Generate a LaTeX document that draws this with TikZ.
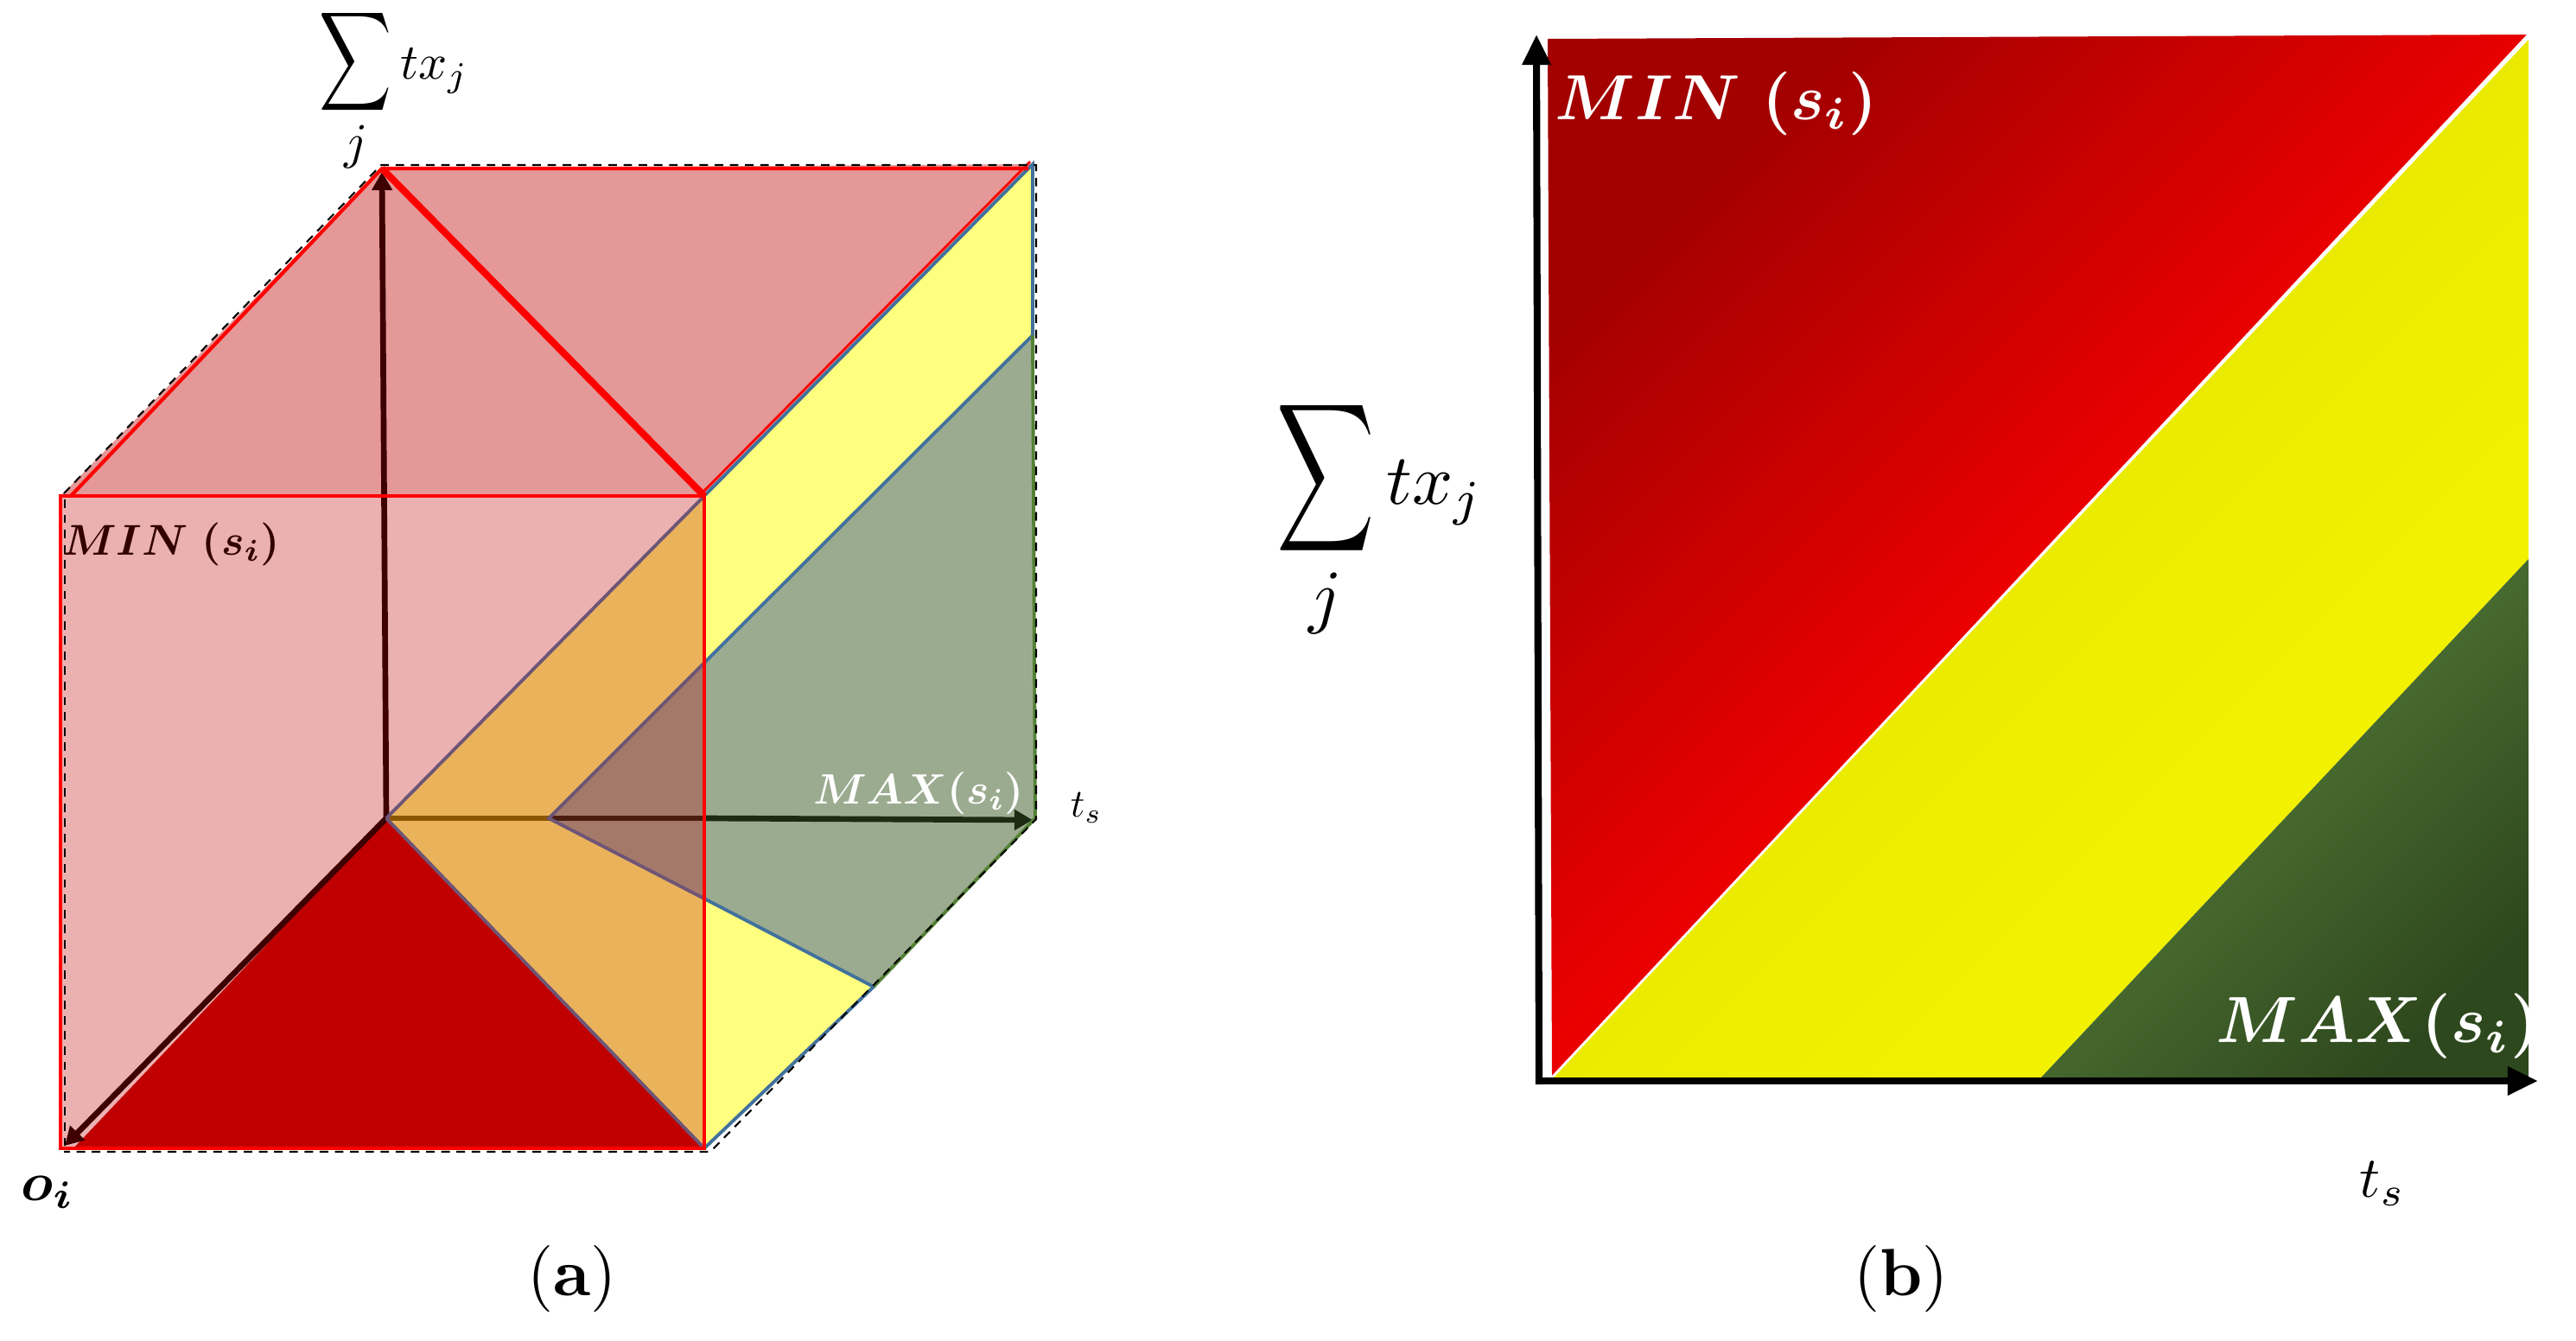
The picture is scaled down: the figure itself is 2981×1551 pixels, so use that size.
\documentclass[tikz,border=0pt]{standalone}
\usepackage{amsmath}
\usepackage{bm}
\usetikzlibrary{arrows.meta}

\definecolor{toppink}{HTML}{E49898}
\definecolor{frontpink}{HTML}{EBB1B1}
\definecolor{cubered}{HTML}{C00000}
\definecolor{paleyellow}{HTML}{FFFF7F}
\definecolor{orangewedge}{HTML}{EAB35B}
\definecolor{greygreen}{HTML}{9BAB90}
\definecolor{brownwedge}{HTML}{A5796A}
\definecolor{edgeblue}{HTML}{41719C}
\definecolor{edgepurple}{HTML}{6E5576}
\definecolor{edgegreen}{HTML}{548235}
\definecolor{minmaroon}{HTML}{330000}
\definecolor{arrowmaroon}{HTML}{3E0000}
\definecolor{arroworange}{HTML}{8A5700}
\definecolor{arrowbrown}{HTML}{4A1D10}
\definecolor{arrowgreen}{HTML}{1C2B12}

\begin{document}
\begin{tikzpicture}[x=0.01cm,y=-0.01cm,
  redline/.style={draw=red,line width=1.2pt},
  blueline/.style={draw=edgeblue,line width=1.1pt},
  purpleline/.style={draw=edgepurple,line width=1.1pt},
  greenline/.style={draw=edgegreen,line width=1.1pt},
  dashline/.style={draw=black,line width=0.6pt,dash pattern=on 2.8pt off 2.2pt},
  cubearrow/.style={line width=1.9pt,-{Triangle[length=6pt,width=6.5pt]}},
  axisarrow/.style={line width=2.3pt,line cap=rect,-{Triangle[length=10pt,width=9pt]}},
  sumlabel/.style={inner sep=0pt}]
\useasboundingbox (0,0) rectangle (2981,1551);
% Cube corners (a)
\coordinate (FTL) at (70,574);
\coordinate (FTR) at (815,574);
\coordinate (FBL) at (70,1329);
\coordinate (FBR) at (815,1329);
\coordinate (BTL) at (442,195);
\coordinate (BTR) at (1195,190);
\coordinate (BBR) at (1198,947);
\coordinate (O) at (447,947);
\coordinate (P) at (635,947);
\coordinate (Q) at (815,947);
\coordinate (G1) at (1195,388);
\coordinate (G2) at (1011,1142);
\coordinate (Gf) at (815,767);
\coordinate (Gb) at (815,1040);
\coordinate (Ytip) at (442,199);
\coordinate (Otip) at (75,1326);
\coordinate (Ttip) at (1195,949);
% Top face
\fill[toppink] (FTL) -- (BTL) -- (BTR) -- (FTR) -- cycle;
% Right face
\fill[paleyellow] (FTR) -- (BTR) -- (G1) -- (Gf) -- cycle;
\fill[greygreen] (Gf) -- (G1) -- (BBR) -- (G2) -- (Gb) -- cycle;
\fill[paleyellow] (Gb) -- (G2) -- (FBR) -- cycle;
% Front face
\fill[frontpink] (FTL) rectangle (FBR);
\fill[orangewedge] (O) -- (FTR) -- (FBR) -- cycle;
\fill[brownwedge] (P) -- (Gf) -- (Gb) -- cycle;
\fill[cubered] (O) -- (85,1329) -- (FBR) -- cycle;
% Axes
\draw[cubearrow,draw=arrowmaroon] (O) -- (Ytip);
\draw[cubearrow,draw=arrowmaroon] (O) -- (Otip);
\draw[line width=1.9pt,draw=arroworange] (O) -- (P);
\draw[line width=1.9pt,draw=arrowbrown] (P) -- (Q);
\draw[cubearrow,draw=arrowgreen] (Q) -- (Ttip);
% Edges seen through the front face
\draw[purpleline] (O) -- (FTR);
\draw[purpleline] (O) -- (FBR);
\draw[purpleline] (Gf) -- (P) -- (Gb);
% Edges of the right face
\draw[red,line width=0.8pt] (812,571) -- (1192,187);
\draw[blueline] (FTR) -- (BTR) -- (G1);
\draw[blueline] (G1) -- (Gf);
\draw[blueline] (Gb) -- (G2) -- (FBR);
\draw[greenline] (G1) -- (BBR) -- (G2);
% Red outline
\draw[redline] (FTL) rectangle (FBR);
\draw[redline] (82,574) -- (BTL) -- (1190,195);
\draw[redline,line width=2.3pt] (BTL) -- (FTR);
% Dashed cube
\draw[dashline] (74,571) -- (441,191) -- (1199,191) -- (1199,948) -- (822,1333) -- (74,1333);
\draw[dashline] (75,578) -- (75,1329);
% Labels (a)
\node[sumlabel,scale=1.65] (sumA) at (456,104)
  {$\displaystyle\mathop{\scalebox{1.0}[1.38]{$\displaystyle\sum$}}\limits_{\mbox{$j$}} tx_j$};
\node[text=minmaroon,scale=1.42] (minA) at (198,630) {$\bm{MIN\ (s_i)}$};
\node[text=white,scale=1.4] (maxA) at (1063,918) {$\bm{MAX(s_i)}$};
\node[scale=1.3] (tsA) at (1257,935) {$t_s$};
\node[scale=1.8] (oiA) at (55,1380) {$\bm{o_i}$};
\node[scale=2.2] (capA) at (662,1480) {(\textbf{a})};
% Square (b)
\coordinate (SqTL) at (1791,45);
\coordinate (SqTR) at (2926,40);
\coordinate (SqBL) at (1796,1247);
\coordinate (SqBR) at (2926,1247);
\coordinate (YTR) at (2926,46);
\coordinate (YR) at (2926,647);
\coordinate (YB) at (2362,1247);
\shade[top color=cubered!85!black,bottom color=red!90!black,middle color=red!92!black,shading angle=45] (SqTL) -- (SqTR) -- (SqBL) -- cycle;
\shade[top color=yellow!88!black,bottom color=yellow!96!black,shading angle=45] (YTR) -- (YR) -- (YB) -- (SqBL) -- cycle;
\shade[top color=edgegreen!95!white,bottom color=edgegreen!55!black,shading angle=45] (YB) -- (YR) -- (SqBR) -- cycle;
\draw[white,line width=0.8pt] (SqTR) -- (SqBL);
% Axes (b)
\coordinate (AxO) at (1781,1251);
\coordinate (AxY) at (1778,40);
\coordinate (AxX) at (2937,1251);
\draw[axisarrow] (AxO) -- (AxY);
\draw[axisarrow] (AxO) -- (AxX);
% Labels (b)
\node[sumlabel,scale=2.35] (sumB) at (1597,600)
  {$\displaystyle\mathop{\scalebox{0.95}[1.45]{$\displaystyle\sum$}}\limits_{\mbox{$j$}} tx_j$};
\node[text=white,scale=2.1] (minB) at (1986,120) {$\bm{MIN\ (s_i)}$};
\node[text=white,scale=2.15] (maxB) at (2752,1188) {$\bm{MAX(s_i)}$};
\node[scale=1.9] (tsB) at (2757,1370) {$t_s$};
\node[scale=2.2] (capB) at (2200,1480) {(\textbf{b})};
\end{tikzpicture}
\end{document}
